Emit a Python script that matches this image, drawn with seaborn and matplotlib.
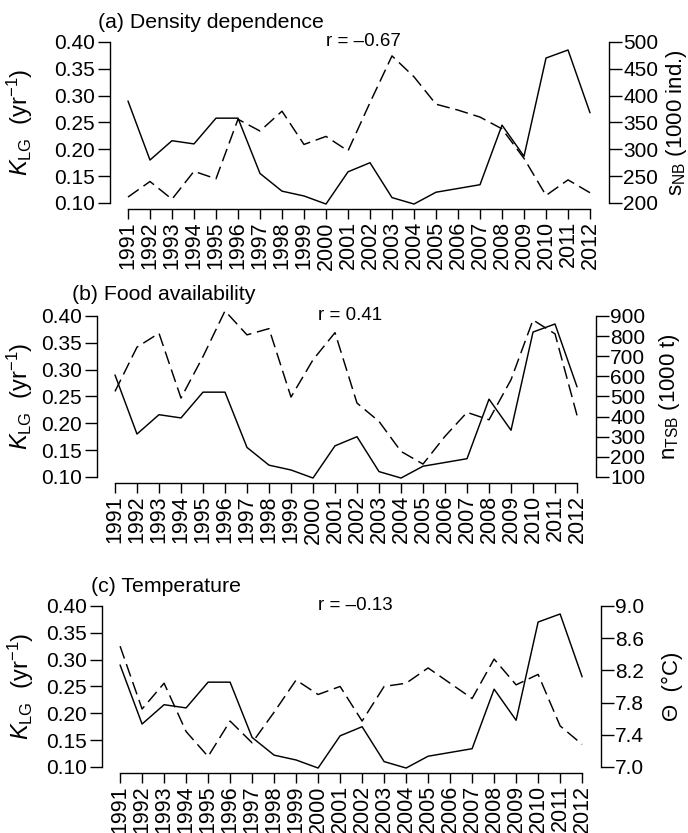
import numpy as np
import pandas as pd
import matplotlib
matplotlib.use("Agg")
import matplotlib.pyplot as plt
import matplotlib.transforms as mtransforms
import seaborn as sns

# ---------------- data ----------------
years = list(range(1991, 2013))
k_lg = [0.290, 0.180, 0.216, 0.210, 0.258, 0.258, 0.155, 0.122, 0.113, 0.098, 0.158,
        0.175, 0.110, 0.098, 0.120, 0.127, 0.134, 0.245, 0.187, 0.370, 0.385, 0.268]
s_nb = [211, 240, 207, 259, 245, 356, 334, 371, 309, 324, 297,
        387, 474, 435, 384, 373, 360, 338, 283, 214, 243, 219]
n_tsb = [525, 745, 814, 492, 698, 925, 806, 837, 497, 682, 817,
         467, 376, 227, 164, 302, 421, 384, 583, 880, 811, 406]
theta = [8.50, 7.72, 8.04, 7.44, 7.13, 7.57, 7.30, 7.68, 8.08, 7.90, 8.00,
         7.57, 8.00, 8.04, 8.23, 8.04, 7.85, 8.34, 8.02, 8.15, 7.51, 7.28]

panel_titles = ["(a) Density dependence", "(b) Food availability", "(c) Temperature"]
r_labels = ["r = \u20130.67", "r = 0.41", "r = \u20130.13"]
right_labels = [r"s$_{\mathregular{NB}}$ (1000 ind.)",
                r"n$_{\mathregular{TSB}}$ (1000 t)",
                "\u0398  (\u00b0C)"]
left_label = r"$\mathit{K}_{\mathregular{LG}}$  (yr$^{\mathregular{" + "\u2212" + r"1}}$)"
left_ticks = [0.10, 0.15, 0.20, 0.25, 0.30, 0.35, 0.40]
right_ticks = [[200, 250, 300, 350, 400, 450, 500],
               [100, 200, 300, 400, 500, 600, 700, 800, 900],
               [7.0, 7.4, 7.8, 8.2, 8.6, 9.0]]
right_fmt = ["{:.0f}", "{:.0f}", "{:.1f}"]

df = pd.DataFrame({"year": years, "k_lg": k_lg, "s_nb": s_nb,
                   "n_tsb": n_tsb, "theta": theta})
right_cols = ["s_nb", "n_tsb", "theta"]

# ---------------- style ----------------
sns.set_theme(style="ticks")
plt.rcParams["font.family"] = ["Liberation Sans", "DejaVu Sans"]
plt.rcParams["mathtext.fontset"] = "custom"
plt.rcParams["mathtext.rm"] = "Liberation Sans"
plt.rcParams["mathtext.it"] = "Liberation Sans:italic"
for k in ["text.color", "axes.labelcolor", "xtick.color", "ytick.color", "axes.edgecolor"]:
    plt.rcParams[k] = "black"

W, H = 688, 833
fig = plt.figure(figsize=(W / 100, H / 100), dpi=100)

# pixel layouts: left, right, top, bottom of axes
layouts = [(109.5, 608.5, 35.5, 209.4),
           (96.5, 595.5, 309.5, 483.4),
           (101.6, 600.6, 599.5, 773.4)]
title_pos = [(98, 22), (72, 295), (91, 587)]
left_label_x = [35, 35, 36]
right_label_x = [664, 657, 662]

dash = (0, (9, 4))
lw = 1.05
tick_fs = 15
year_fs = 15.5

for i in range(3):
    l, r, t, b = layouts[i]
    ax = fig.add_axes([l / W, 1 - b / H, (r - l) / W, (b - t) / H])
    ax2 = ax.twinx()

    sns.lineplot(data=df, x="year", y="k_lg", ax=ax, color="black", lw=lw)
    sns.lineplot(data=df, x="year", y=right_cols[i], ax=ax2, color="black",
                 lw=lw, linestyle=dash)
    for ln in ax2.get_lines():
        ln.set_clip_on(False)

    ax.set_xlim(1990.16, 2012.84)
    ax.set_ylim(0.088, 0.412)
    rt = right_ticks[i]
    pad = (rt[-1] - rt[0]) * 0.04
    ax2.set_ylim(rt[0] - pad, rt[-1] + pad)

    ax.set_xticks(years)
    ax.set_xticklabels([str(y) for y in years], rotation=90, fontsize=year_fs)
    ax.set_yticks(left_ticks)
    ax.set_yticklabels([f"{v:.2f}" for v in left_ticks], fontsize=tick_fs)
    ax2.set_yticks(rt)
    ax2.set_yticklabels([right_fmt[i].format(v) for v in rt], fontsize=tick_fs)

    ax.tick_params(axis="x", length=7, width=1.0, pad=1.5)
    ax.tick_params(axis="y", length=9, width=1.0, pad=1.5)
    ax2.tick_params(axis="y", length=9, width=1.0, pad=1.5)

    for sp in ["top", "right"]:
        ax.spines[sp].set_visible(False)
    for sp in ["top", "left", "bottom"]:
        ax2.spines[sp].set_visible(False)
    ax.spines["left"].set_bounds(0.10, 0.40)
    ax.spines["bottom"].set_bounds(1991, 2012)
    ax2.spines["right"].set_bounds(rt[0], rt[-1])
    for s in [ax.spines["left"], ax.spines["bottom"], ax2.spines["right"]]:
        s.set_linewidth(1.0)

    ax.set_xlabel("")
    ax.set_ylabel(left_label, fontsize=17)
    ax.yaxis.set_label_coords(left_label_x[i] / W, 0.5,
                              transform=mtransforms.blended_transform_factory(fig.transFigure, ax.transAxes))
    ax2.set_ylabel(right_labels[i], fontsize=16)
    ax2.yaxis.set_label_coords(right_label_x[i] / W, 0.5,
                               transform=mtransforms.blended_transform_factory(fig.transFigure, ax2.transAxes))

    ax.text(2001.7, 0.40, r_labels[i], ha="center", va="center", fontsize=13.5)
    tx, ty = title_pos[i]
    fig.text(tx / W, 1 - ty / H, panel_titles[i], ha="left", va="center", fontsize=15.3)

fig.savefig("out.png", dpi=100)
